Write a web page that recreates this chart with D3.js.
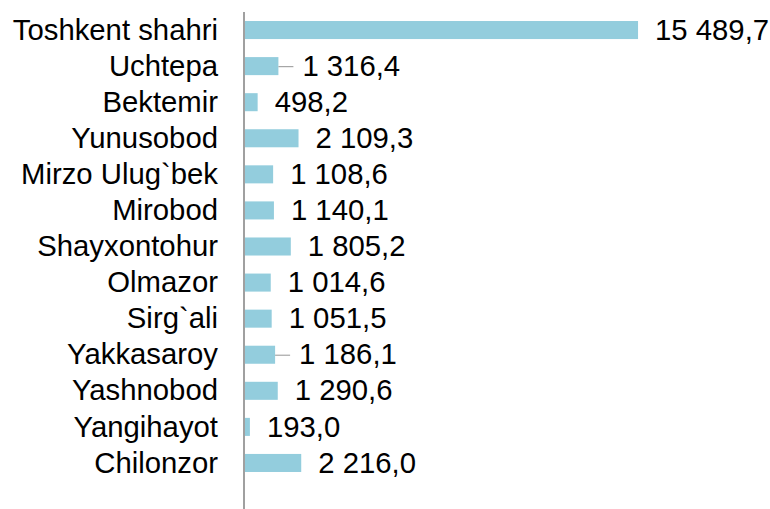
<!DOCTYPE html>
<html>
<head>
<meta charset="utf-8">
<script src="https://cdn.jsdelivr.net/npm/d3@7/dist/d3.min.js"></script>
<style>
  html, body { margin: 0; padding: 0; background: #fff; }
  svg { display: block; }
  text { font-family: "Liberation Sans", Arial, sans-serif; fill: #000; }
</style>
</head>
<body>
<svg id="chart" width="770" height="509"></svg>
<script>
const categories = ["Toshkent shahri", "Uchtepa", "Bektemir", "Yunusobod", "Mirzo Ulug`bek", "Mirobod", "Shayxontohur", "Olmazor", "Sirg`ali", "Yakkasaroy", "Yashnobod", "Yangihayot", "Chilonzor"];
const values = [15489.7, 1316.4, 498.2, 2109.3, 1108.6, 1140.1, 1805.2, 1014.6, 1051.5, 1186.1, 1290.6, 193.0, 2216.0];
const valueLabels = ["15 489,7", "1 316,4", "498,2", "2 109,3", "1 108,6", "1 140,1", "1 805,2", "1 014,6", "1 051,5", "1 186,1", "1 290,6", "193,0", "2 216,0"];
const leaderCategories = ["Uchtepa", "Yakkasaroy"];

const data = categories.map((c, i) => ({ c, v: values[i], label: valueLabels[i] }));

const W = 770, H = 509;
const FS = 29.3;
const svg = d3.select("#chart");

const x = d3.scaleLinear().domain([0, 16000]).range([245, 651]);
const y = d3.scaleBand().domain(categories).range([12, 481]).paddingInner(0.5).paddingOuter(0.25);

// bars
svg.append("g").selectAll("rect").data(data).join("rect")
  .attr("x", x(0))
  .attr("y", d => y(d.c))
  .attr("width", d => x(d.v) - x(0))
  .attr("height", y.bandwidth())
  .attr("fill", "#93CDDD");

// axis line
svg.append("line")
  .attr("x1", 244).attr("x2", 244)
  .attr("y1", 12).attr("y2", H)
  .attr("stroke", "#A0A0A0").attr("stroke-width", 2);

// category labels
svg.append("g").selectAll("text").data(data).join("text")
  .attr("x", 218)
  .attr("y", d => y(d.c) + y.bandwidth() / 2)
  .attr("dy", "0.33em")
  .attr("text-anchor", "end")
  .attr("font-size", FS)
  .text(d => d.c);

// leader lines
svg.append("g").selectAll("line").data(data.filter(d => leaderCategories.includes(d.c))).join("line")
  .attr("x1", d => x(d.v))
  .attr("x2", d => x(d.v) + 15)
  .attr("y1", d => y(d.c) + y.bandwidth() / 2 + 0.5)
  .attr("y2", d => y(d.c) + y.bandwidth() / 2 + 0.5)
  .attr("stroke", "#A6A6A6").attr("stroke-width", 1.2);

// value labels
svg.append("g").selectAll("text").data(data).join("text")
  .attr("x", d => x(d.v) + (leaderCategories.includes(d.c) ? 24 : 17))
  .attr("y", d => y(d.c) + y.bandwidth() / 2)
  .attr("dy", "0.33em")
  .attr("text-anchor", "start")
  .attr("font-size", FS)
  .text(d => d.label);
</script>
</body>
</html>
